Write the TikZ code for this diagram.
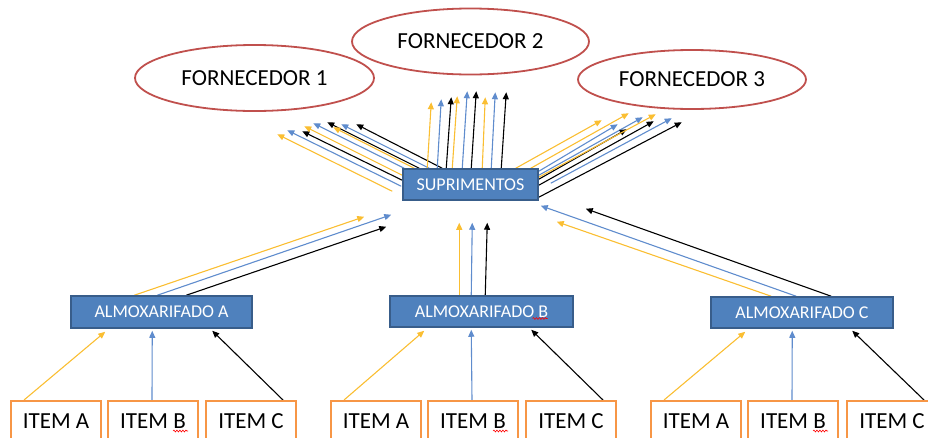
\documentclass[tikz,border=0pt]{standalone}
\usepackage{fontspec}
\setmainfont{Carlito}
\usetikzlibrary{arrows.meta,shapes.geometric,decorations.pathmorphing,backgrounds}
\definecolor{arY}{RGB}{250,190,50}
\definecolor{arB}{RGB}{95,140,205}
\definecolor{boxfill}{RGB}{79,129,189}
\definecolor{boxline}{RGB}{56,93,138}
\definecolor{ellred}{RGB}{192,80,77}
\definecolor{itemor}{RGB}{247,150,70}
\begin{document}
\begin{tikzpicture}[x=1pt,y=-1pt,
  forn/.style={ellipse,draw=ellred,line width=1.8pt,inner sep=0pt,font=\fontsize{23}{27}\selectfont},
  bluebox/.style={rectangle,draw=boxline,fill=boxfill,line width=1.5pt,inner sep=0pt,text=white,font=\fontsize{18}{22}\selectfont},
  itembox/.style={rectangle,draw=itemor,line width=2pt,fill=white,inner sep=0pt,minimum width=90pt,minimum height=40pt,font=\fontsize{23}{27}\selectfont},
  tipA/.style={-{Triangle[length=7pt,width=6pt]},line width=1.1pt},
  ay/.style={tipA,draw=arY},
  ab/.style={tipA,draw=arB},
  ak/.style={tipA,draw=black},
  squig/.style={draw=red,line width=0.6pt,decorate,decoration={snake,segment length=3pt,amplitude=0.9pt}}
]
\useasboundingbox (0,0) rectangle (928,437);
\clip (0,0) rectangle (928,437);

% suppliers
\node[forn,minimum width=239pt,minimum height=66pt] (f1) at (254.5,78) {FORNECEDOR 1};
\node[forn,minimum width=237pt,minimum height=66pt] (f2) at (470.5,41.5) {FORNECEDOR 2};
\node[forn,minimum width=228pt,minimum height=59pt] (f3) at (692,79.5) {FORNECEDOR 3};

% blue boxes
\node[bluebox,minimum width=135pt,minimum height=31pt] (sup) at (470.5,184.5) {SUPRIMENTOS};
\node[bluebox,minimum width=181pt,minimum height=32pt] (almA) at (161.5,312) {ALMOXARIFADO A};
\node[bluebox,minimum width=183pt,minimum height=31pt] (almB) at (481.5,311.5) {ALMOXARIFADO B};
\node[bluebox,minimum width=182pt,minimum height=31pt] (almC) at (802,312.5) {ALMOXARIFADO C};

% items
\foreach \g/\xa/\xb/\xc in {1/56/153/251, 2/376/473/571, 3/696/793/892} {
  \node[itembox] (iA\g) at (\xa,421) {ITEM A};
  \node[itembox] (iB\g) at (\xb,421) {ITEM B};
  \node[itembox] (iC\g) at (\xc,421) {ITEM C};
  \draw[squig] ([shift={(20,10)}]iB\g.center) -- ([shift={(35,10)}]iB\g.center);
}
\draw[squig] ([shift={(51,7)}]almB.center) -- ([shift={(66,7)}]almB.center);

\begin{pgfonlayer}{background}
% items -> almoxarifados
\foreach \g/\al in {1/almA,2/almB,3/almC} {
  \draw[ay] ([shift={(-32,0)}]iA\g.north) -- ([shift={(35,3)}]\al.south west);
  \draw[ab] ([shift={(-1,0)}]iB\g.north) -- ([shift={(82,2)}]\al.south west);
  \draw[ak] ([shift={(32,0)}]iC\g.north) -- ([shift={(142,2)}]\al.south west);
}
% almoxarifados -> suprimentos
\draw[ay] ([shift={(64,0)}]almA.north west) -- ([shift={(-38,16)}]sup.south west);
\draw[ab] ([shift={(87,0)}]almA.north west) -- ([shift={(-11,14)}]sup.south west);
\draw[ak] ([shift={(116,0)}]almA.north west) -- ([shift={(-16,26)}]sup.south west);
\draw[ay] ([shift={(70,0)}]almB.north west) -- ([shift={(57,22)}]sup.south west);
\draw[ab] ([shift={(82,0)}]almB.north west) -- ([shift={(70,22)}]sup.south west);
\draw[ak] ([shift={(96,0)}]almB.north west) -- ([shift={(85,22)}]sup.south west);
\draw[ay] ([shift={(61,0)}]almC.north west) -- ([shift={(18,21)}]sup.south east);
\draw[ab] ([shift={(86,0)}]almC.north west) -- ([shift={(2,5)}]sup.south east);
\draw[ak] ([shift={(121,0)}]almC.north west) -- ([shift={(47,8)}]sup.south east);
% suprimentos -> fornecedor 1 and 2
\foreach \s/\tx/\ty/\hx/\hy in {
  ay/-10/23/-125/-34, ab/-1/18/-115/-38, ak/0/12/-100/-37,
  ay/0/7/-98/-42, ab/2/0/-89/-45, ak/17/0/-75/-46,
  ay/12/0/-69/-41, ab/27/0/-61/-44, ak/40/0/-46/-44,
  ay/25/0/29/-66, ab/35/0/39/-69, ak/44/0/49/-71,
  ay/50/0/55/-72, ab/60/0/65/-77, ak/69/0/74/-77,
  ay/80/0/83/-71, ab/89/0/93/-76, ak/99/0/104/-76} {
  \draw[\s] ([shift={(\tx,\ty)}]sup.north west) -- ([shift={(\hx,\hy)}]sup.north west);
}
% suprimentos -> fornecedor 3
\foreach \s/\tx/\ty/\hx/\hy in {
  ay/-23/0/63/-48, ay/-8/0/90/-55, ab/0/3/79/-44,
  ab/0/7/104/-51, ak/0/11/88/-39, ay/0/9/117/-54,
  ak/0/17/115/-47, ab/12/15/133/-50, ak/0/29/143/-46} {
  \draw[\s] ([shift={(\tx,\ty)}]sup.north east) -- ([shift={(\hx,\hy)}]sup.north east);
}
\end{pgfonlayer}
\end{tikzpicture}
\end{document}
